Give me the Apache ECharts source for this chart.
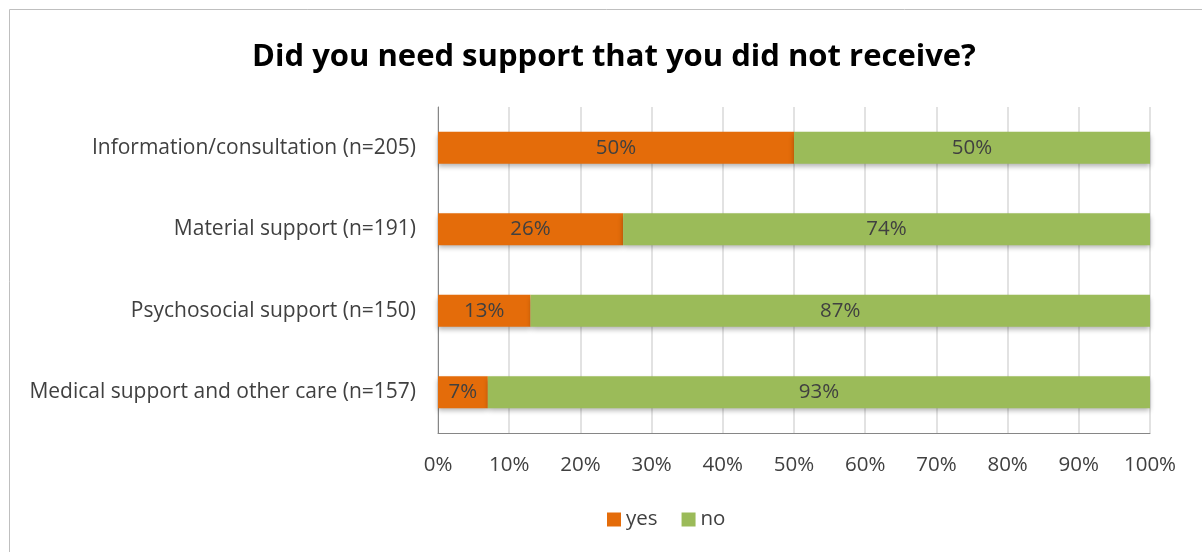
<!DOCTYPE html>
<html>
<head>
<meta charset="utf-8">
<script src="https://cdn.jsdelivr.net/npm/echarts@6/dist/echarts.min.js"></script>
<style>
  html, body { margin: 0; padding: 0; background: #fff; }
  #chart { width: 1202px; height: 552px; }
</style>
</head>
<body>
<div id="chart"></div>
<script>
  // categories bottom -> top (echarts category y axis draws first item at bottom)
  var categories = [
    'Medical support and other care (n=157)',
    'Psychosocial support (n=150)',
    'Material support (n=191)',
    'Information/consultation (n=205)'
  ];
  var yesValues = [7, 13, 26, 50];
  var noValues = [93, 87, 74, 50];

  var font = '"Open Sans", "Liberation Sans", sans-serif';
  var chart = echarts.init(document.getElementById('chart'));
  chart.setOption({
    animation: false,
    title: {
      text: 'Did you need support that you did not receive?',
      left: 609,
      textAlign: 'center',
      top: 37,
      textStyle: { fontFamily: font, fontSize: 31, fontWeight: 'bold', color: '#000' }
    },
    graphic: [{
      type: 'rect',
      shape: { x: 9.5, y: 9.5, width: 1300, height: 700 },
      style: { fill: 'none', stroke: '#bfbfbf', lineWidth: 1 },
      silent: true
    }],
    legend: {
      top: 504,
      left: 602,
      itemWidth: 14,
      itemHeight: 14,
      itemGap: 24,
      icon: 'rect',
      textStyle: { fontFamily: font, fontSize: 20.5, color: '#404040' },
      data: ['yes', 'no']
    },
    grid: { left: 438, right: 52, top: 107, bottom: 119 },
    xAxis: {
      type: 'value',
      min: 0,
      max: 100,
      interval: 10,
      axisLine: { show: true, lineStyle: { color: '#868686' } },
      axisTick: { show: false },
      axisLabel: {
        formatter: '{value}%',
        margin: 22,
        fontFamily: font, fontSize: 20.5, color: '#404040'
      },
      splitLine: { show: true, lineStyle: { color: '#d9d9d9', width: 1.5 } }
    },
    yAxis: {
      type: 'category',
      data: categories,
      axisLine: { show: true, lineStyle: { color: '#868686' } },
      axisTick: { show: false },
      axisLabel: { margin: 22, fontFamily: font, fontSize: 21, color: '#404040' }
    },
    series: [
      {
        name: 'yes',
        type: 'bar',
        stack: 'total',
        barWidth: 32,
        data: yesValues,
        itemStyle: {
          color: '#e46c0a',
          shadowColor: 'rgba(0,0,0,0.3)', shadowBlur: 5, shadowOffsetY: 3
        },
        label: {
          show: true, position: 'inside', formatter: '{c}%',
          fontFamily: font, fontSize: 20.5, color: '#404040'
        }
      },
      {
        name: 'no',
        type: 'bar',
        stack: 'total',
        barWidth: 32,
        data: noValues,
        itemStyle: {
          color: '#9bbb59',
          shadowColor: 'rgba(0,0,0,0.3)', shadowBlur: 5, shadowOffsetY: 3
        },
        label: {
          show: true, position: 'inside', formatter: '{c}%',
          fontFamily: font, fontSize: 20.5, color: '#404040'
        }
      }
    ]
  });
</script>
</body>
</html>
